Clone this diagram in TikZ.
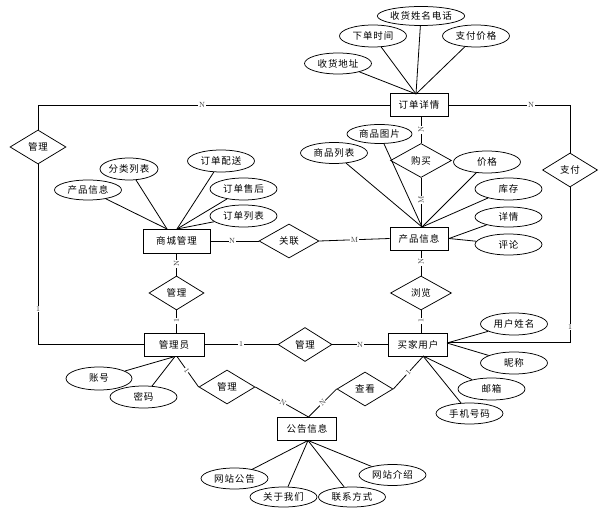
\documentclass[tikz,border=0pt]{standalone}
\usepackage{fontspec}
\newfontfamily\cjk[LetterSpace=10]{Noto Sans CJK SC}
\usetikzlibrary{shapes.geometric}
\begin{document}
\begin{tikzpicture}[x=1pt,y=-1pt,
  txt/.style={font=\cjk\fontsize{9.5}{11}\selectfont},
  ent/.style={txt, draw, rectangle, minimum width=58pt, minimum height=23pt, inner sep=0pt, line width=0.95pt, fill=white},
  rel/.style={txt, draw, diamond, minimum width=56pt, minimum height=34pt, inner sep=0pt, line width=0.75pt, fill=white},
  attr/.style={txt, draw, ellipse, minimum width=67pt, minimum height=21pt, inner sep=0pt, line width=0.75pt, fill=white},
  lab/.style={fill=white, inner sep=0.6pt, text=black!80, font=\fontsize{7.5}{7.5}\selectfont},
  conn/.style={line width=0.8pt}
]
\useasboundingbox (0,0) rectangle (602,510);

% entities
\node[ent] (order) at (419,105) {订单详情};
\node[ent, minimum width=67pt, minimum height=24pt] (mall) at (176.5,241) {商城管理};
\node[ent] (prod) at (419,238.5) {产品信息};
\node[ent, minimum width=60pt] (admin) at (174,344.5) {管理员};
\node[ent, minimum width=59pt] (buyer) at (418,344.5) {买家用户};
\node[ent, minimum width=59pt] (notice) at (307,428.5) {公告信息};

% relationships
\node[rel] (rManageA) at (38,147) {管理};
\node[rel, minimum width=60pt] (rAssoc) at (289,241) {关联};
\node[rel, minimum width=61pt] (rBuy) at (421,160.5) {购买};
\node[rel, minimum width=55pt] (rPay) at (570,170) {支付};
\node[rel, minimum width=55pt] (rManageB) at (176.5,293) {管理};
\node[rel, minimum width=61pt] (rBrowse) at (421,293) {浏览};
\node[rel, minimum width=54pt] (rManageC) at (305,344.5) {管理};
\node[rel] (rManageD) at (227,387) {管理};
\node[rel] (rView) at (365,389) {查看};

% attribute convergence points
\coordinate (oc) at (416,94);
\coordinate (mc1) at (167,229);
\coordinate (mc2) at (177,229);
\coordinate (pc) at (422,227);
\coordinate (pc2) at (449,238.5);
\coordinate (uc1) at (447,343);
\coordinate (uc2) at (423,356);
\coordinate (ac) at (175,356.5);
\coordinate (nc) at (308,440.5);
\coordinate (adminB) at (177,356.5);
\coordinate (buyerB) at (423,356.5);
\coordinate (noticeT) at (308.5,417);

% attributes
\node[attr, minimum width=68pt, minimum height=19pt] (a1) at (421,16) {收货姓名电话};
\node[attr, minimum height=22pt] (a2) at (373,36) {下单时间};
\node[attr, minimum height=22pt] (a3) at (476,36) {支付价格};
\node[attr] (a4) at (338,63.5) {收货地址};

\node[attr, minimum height=20pt] (b1) at (88,190) {产品信息};
\node[attr, minimum width=58pt, minimum height=22pt] (b2) at (129,169) {分类列表};
\node[attr, minimum height=22pt] (b3) at (221,161) {订单配送};
\node[attr, minimum height=22pt] (b4) at (243.5,189) {订单售后};
\node[attr, minimum height=22pt] (b5) at (243.5,216) {订单列表};

\node[attr, minimum width=65pt, minimum height=19pt] (c1) at (379.5,134) {商品图片};
\node[attr] (c2) at (334,153) {商品列表};
\node[attr, minimum height=22pt] (c3) at (487,162) {价格};
\node[attr, minimum height=22pt] (c4) at (508.5,189) {库存};
\node[attr, minimum height=20pt] (c5) at (508.5,217) {详情};
\node[attr] (c6) at (508.5,244.5) {评论};

\node[attr, minimum height=22pt] (d1) at (514,324) {用户姓名};
\node[attr, minimum height=22pt] (d2) at (514,363) {昵称};
\node[attr, minimum height=22pt] (d3) at (491.5,389) {邮箱};
\node[attr] (d4) at (469.5,413.5) {手机号码};

\node[attr, minimum width=66pt, minimum height=23pt] (e1) at (99,378.5) {账号};
\node[attr, minimum height=22pt] (e2) at (143.5,397) {密码};

\node[attr] (f1) at (234.5,478.5) {网站公告};
\node[attr, minimum height=20pt] (f2) at (283.5,497) {关于我们};
\node[attr, minimum height=20pt] (f3) at (352,497) {联系方式};
\node[attr] (f4) at (392.5,475) {网站介绍};

% attribute links
\foreach \n in {a1,a2,a3,a4} \draw[conn] (\n) -- (oc);
\foreach \n in {b1,b2} \draw[conn] (\n) -- (mc1);
\foreach \n in {b3,b4,b5} \draw[conn] (\n) -- (mc2);
\foreach \n in {c1,c2,c3,c4} \draw[conn] (\n) -- (pc);
\foreach \n in {c5,c6} \draw[conn] (\n) -- (pc2);
\foreach \n in {d1,d2} \draw[conn] (\n) -- (uc1);
\foreach \n in {d3,d4} \draw[conn] (\n) -- (uc2);
\foreach \n in {e1,e2} \draw[conn] (\n) -- (ac);
\foreach \n in {f1,f2,f3,f4} \draw[conn] (\n) -- (nc);

% outer connectors
\coordinate (tl) at (38,105);
\coordinate (bl) at (38,344.5);
\coordinate (tr) at (570,105);
\coordinate (br) at (570,342.5);
\draw[conn] (order.west) -- (tl) -- (rManageA.north);
\draw[conn] (rManageA.south) -- (bl) -- (admin.west);
\draw[conn] (order.east) -- (tr) -- (rPay.north);
\draw[conn] (rPay.south) -- (br) -- (br -| buyer.east);
\node[lab] at (202,105) {N};
\node[lab] at (38,309) {1};
\node[lab] at (531,105) {N};
\node[lab] at (570,327) {1};

% vertical connectors
\draw[conn] (rBuy.north) -- (rBuy.north |- order.south);
\draw[conn] (rBuy.south) -- (rBuy.south |- prod.north);
\node[lab, rotate=90] at (421,130) {N};
\node[lab, rotate=90] at (421,200) {M};
\draw[conn] (rManageB.north) -- (rManageB.north |- mall.south);
\draw[conn] (rManageB.south) -- (rManageB.south |- admin.north);
\node[lab, rotate=90] at (176.5,264) {N};
\node[lab, rotate=90] at (176.5,321) {1};
\draw[conn] (rBrowse.north) -- (rBrowse.north |- prod.south);
\draw[conn] (rBrowse.south) -- (rBrowse.south |- buyer.north);
\node[lab, rotate=90] at (421,262) {N};
\node[lab, rotate=90] at (421,321) {1};

% horizontal connectors
\draw[conn] (mall.east) -- node[lab, pos=0.45] {N} (rAssoc.west);
\draw[conn] (rAssoc.east) -- node[lab, pos=0.5] {M} (prod.west);
\draw[conn] (admin.east) -- node[lab, pos=0.5] {1} (rManageC.west);
\draw[conn] (rManageC.east) -- node[lab, pos=0.5] {N} (buyer.west);

% diagonal connectors
\draw[conn] (adminB) -- node[lab, sloped, pos=0.45] {1} (rManageD.west);
\draw[conn] (rManageD.east) -- node[lab, sloped, pos=0.52] {N} (noticeT);
\draw[conn] (buyerB) -- node[lab, sloped, pos=0.5] {1} (rView.east);
\draw[conn] (rView.west) -- node[lab, sloped, pos=0.5] {N} (noticeT);
\end{tikzpicture}
\end{document}
